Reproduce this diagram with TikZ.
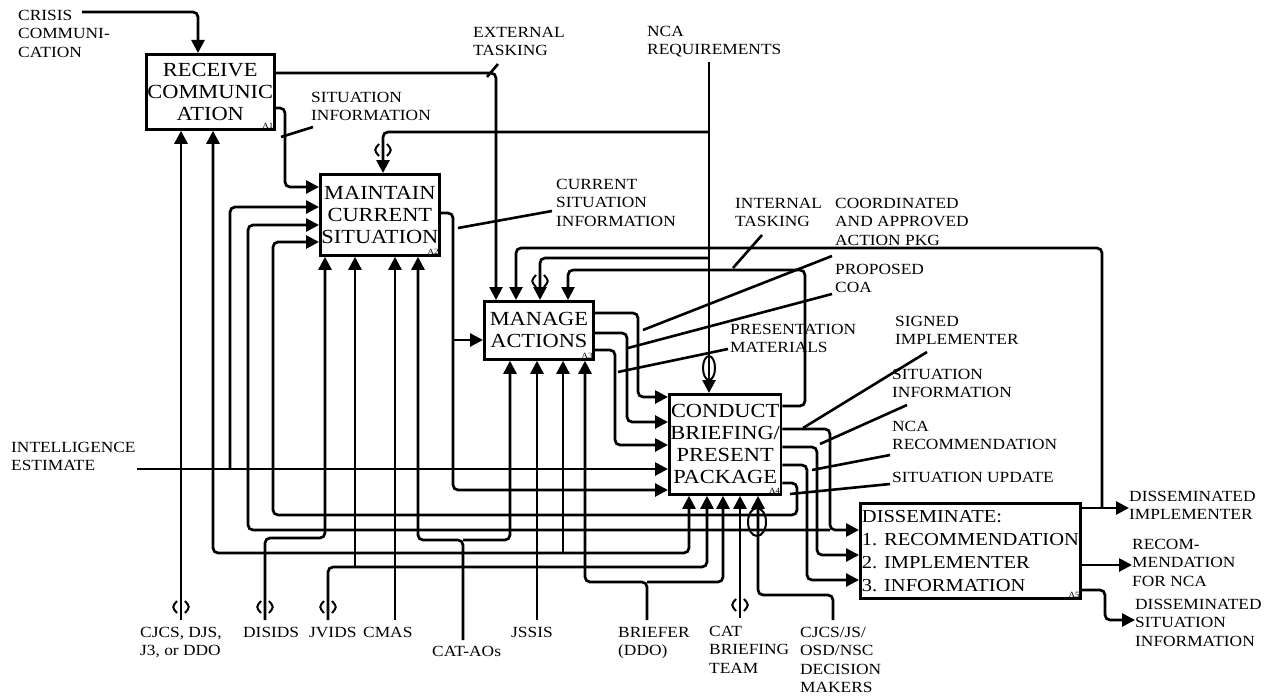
\documentclass[tikz,border=0pt]{standalone}
\usepackage{fontspec}
\setmainfont{Liberation Serif}[FakeStretch=1.12]
\usetikzlibrary{arrows.meta}
\newcommand{\LblFont}{\fontsize{15.5}{18.5}\selectfont}
\newcommand{\BoxFont}{\fontsize{20}{22}\selectfont}
\newcommand{\ListFont}{\fontsize{18.3}{23}\selectfont}
\newcommand{\TagFont}{\fontsize{8}{8}\selectfont}
% tunnel mark round a line
\newcommand{\Tunnel}[2]{\draw[lead, line width=2pt, shift={(#1,#2)}] (-4,-6) .. controls (-9,0) .. (-4,6) (4,-6) .. controls (9,0) .. (4,6);}

\begin{document}
\begin{tikzpicture}[x=1pt,y=-1pt,>={Triangle[length=13pt,width=13pt]},
  proc/.style={draw, line width=2.8pt, anchor=north west, inner sep=1pt, align=center, font=\BoxFont},
  lbl/.style={anchor=north west, inner sep=0pt, align=left, font=\LblFont},
  flow/.style={line width=2.7pt, rounded corners=5pt},
  lead/.style={line width=2.6pt},
  tag/.style={anchor=south east, inner sep=2pt, font=\TagFont}]
  \useasboundingbox (0,0) rectangle (1271,698);

  % activities
  \node[proc, minimum width=115, minimum height=75]  (A1) at (145,53)  {RECEIVE\\COMMUNIC\\ATION};
  \node[proc, minimum width=113, minimum height=81]  (A2) at (319,173) {MAINTAIN\\CURRENT\\SITUATION};
  \node[proc, minimum width=109, minimum height=58]  (A3) at (483,300) {MANAGE\\ACTIONS};
  \node[proc, minimum width=108, minimum height=100] (A4) at (668,393) {CONDUCT\\BRIEFING/\\PRESENT\\PACKAGE};
  \node[proc, minimum width=220, minimum height=95, align=left, inner sep=0pt, font=\ListFont] (A5) at (859,502)
    {DISSEMINATE:\\1. RECOMMENDATION\\2. IMPLEMENTER\\3. INFORMATION};
  \node[tag] (A1t) at (A1.south east) {A1};
  \node[tag] (A2t) at (A2.south east) {A2};
  \node[tag] (A3t) at (A3.south east) {A3};
  \node[tag] (A4t) at (A4.south east) {A4};
  \node[tag] (A5t) at (A5.south east) {A5};

  % labels
  \node[lbl] (crisis)   at (18,10)   {CRISIS\\COMMUNI-\\CATION};
  \node[lbl] (exttask)  at (473,27)  {EXTERNAL\\TASKING};
  \node[lbl] (ncareq)   at (647,26)  {NCA\\REQUIREMENTS};
  \node[lbl] (sitinfoA) at (311,92)  {SITUATION\\INFORMATION};
  \node[lbl] (cursit)   at (556,179) {CURRENT\\SITUATION\\INFORMATION};
  \node[lbl] (inttask)  at (735,198) {INTERNAL\\TASKING};
  \node[lbl] (coordpkg) at (835,198) {COORDINATED\\AND APPROVED\\ACTION PKG};
  \node[lbl] (propcoa)  at (835,264) {PROPOSED\\COA};
  \node[lbl] (presmat)  at (730,324) {PRESENTATION\\MATERIALS};
  \node[lbl] (signimpl) at (895,316) {SIGNED\\IMPLEMENTER};
  \node[lbl] (sitinfoB) at (892,369) {SITUATION\\INFORMATION};
  \node[lbl] (ncarec)   at (892,421) {NCA\\RECOMMENDATION};
  \node[lbl] (situpd)   at (892,472) {SITUATION UPDATE};
  \node[lbl] (intel)    at (11,442)  {INTELLIGENCE\\ESTIMATE};
  \node[lbl] (dissimpl) at (1129,491) {DISSEMINATED\\IMPLEMENTER};
  \node[lbl] (recnca)   at (1132,539) {RECOM-\\MENDATION\\FOR NCA};
  \node[lbl] (disssit)  at (1135,599) {DISSEMINATED\\SITUATION\\INFORMATION};
  \node[lbl] (cjcs)     at (140,627) {CJCS, DJS,\\J3, or DDO};
  \node[lbl] (disids)   at (243,627) {DISIDS};
  \node[lbl] (jvids)    at (309,627) {JVIDS};
  \node[lbl] (cmas)     at (363,627) {CMAS};
  \node[lbl] (cataos)   at (432,646) {CAT-AOs};
  \node[lbl] (jssis)    at (511,627) {JSSIS};
  \node[lbl] (briefer)  at (618,627) {BRIEFER\\(DDO)};
  \node[lbl] (catbt)    at (709,626) {CAT\\BRIEFING\\TEAM};
  \node[lbl] (decmak)   at (800,627) {CJCS/JS/\\OSD/NSC\\DECISION\\MAKERS};

  % free ends
  \coordinate (crisisEnd)  at (82,12);
  \coordinate (ncaEnd)     at (709,62);
  \coordinate (intelEnd)   at (137,469);
  \coordinate (cjcsEnd)    at (181,620);
  \coordinate (disidsEnd)  at (265,620);
  \coordinate (jvidsEnd)   at (328,620);
  \coordinate (cmasEnd)    at (395,620);
  \coordinate (cataosEnd)  at (463,640);
  \coordinate (jssisEnd)   at (537,620);
  \coordinate (brieferEnd) at (647,620);
  \coordinate (catbtEnd)   at (740,618);
  \coordinate (decmakEnd)  at (833,620);

  % inputs and controls
  \draw[flow,->] (crisisEnd) -| (A1.north -| 198,0);
  \draw[flow,->] (A1.east |- 0,73) -| (A3.north -| 496,0);
  \draw[lead] (487,77) -- (498,64);
  \draw[flow,->] (A1.east |- 0,108) -- (285,108) -- (285,187) -- (A2.west |- 0,187);
  \draw[lead] (281,137) -- (313,127);
  \draw[flow,->] (ncaEnd) -- (A4.north -| 709,0);
  \draw[flow,->] (709,132) -| (A2.north -| 383,0);
  \draw[flow,->] (709,258) -| (A3.north -| 540,0);
  \draw[flow,->] (A2.east |- 0,213) -- (453,213) |- (A4.west |- 0,490);
  \draw[flow,->] (453,340) -- (A3.west |- 0,340);
  \draw[lead] (458,228) -- (552,211);
  \draw[flow,->] (intelEnd) -- (A4.west |- 0,469);
  \draw[flow,->] (230,469) |- (A2.west |- 0,207);

  % A3 outputs
  \draw[flow,->] (A3.east |- 0,313) -- (638,313) |- (A4.west |- 0,397);
  \draw[flow,->] (A3.east |- 0,333) -- (627,333) |- (A4.west |- 0,422);
  \draw[flow,->] (A3.east |- 0,350) -- (615,350) |- (A4.west |- 0,445);
  \draw[lead] (643,330) -- (832,256);
  \draw[lead] (628,348) -- (832,294);
  \draw[lead] (618,372) -- (728,349);

  % A4 outputs
  \draw[flow,->] (A4.east |- 0,406) -- (805,406) -- (805,270) -| (A3.north -| 568,0);
  \draw[lead] (733,268) -- (762,235);
  \draw[flow,->] (A4.east |- 0,429) -| (830,530) -- (A5.west |- 0,530);
  \draw[flow,->] (830,530) -- (248,530) -- (248,225) -- (A2.west |- 0,225);
  \draw[lead] (803,428) -- (927,352);
  \draw[flow,->] (A4.east |- 0,447) -| (817,555) -- (A5.west |- 0,555);
  \draw[lead] (820,444) -- (907,405);
  \draw[flow,->] (A4.east |- 0,465) -| (807,580) -- (A5.west |- 0,580);
  \draw[lead] (812,470) -- (890,455);
  \draw[flow,->] (A4.east |- 0,483) -- (797,483) -- (797,515) -- (273,515) -- (273,242) -- (A2.west |- 0,242);
  \draw[lead] (790,494) -- (890,484);

  % A5 outputs
  \draw[flow,->] (A5.east |- 0,508) -- (dissimpl.west |- 0,508);
  \draw[flow,->] (1102,508) -- (1102,248) -| (A3.north -| 516,0);
  \draw[flow,->] (A5.east |- 0,565) -- (recnca.west |- 0,565);
  \draw[flow,->] (A5.east |- 0,590) -- (1105,590) |- (disssit.west |- 0,620);

  % mechanisms
  \draw[flow,->] (cjcsEnd) -- (A1.south -| 181,0);
  \draw[flow,->] (disidsEnd) -- (265,538) -- (325,538) -- (A2.south -| 325,0);
  \draw[flow,->] (jvidsEnd) -- (328,567) -- (707,567) -- (A4.south -| 707,0);
  \draw[flow,->] (355,567) -- (A2.south -| 355,0);
  \draw[flow,->] (cmasEnd) -- (A2.south -| 395,0);
  \draw[flow,->] (395,553) -| (A1.south -| 213,0);
  \draw[flow,->] (395,553) -| (A4.south -| 689,0);
  \draw[flow,->] (563,553) -- (A3.south -| 563,0);
  \draw[flow,->] (cataosEnd) -- (463,540) -| (A2.south -| 418,0);
  \draw[flow,->] (463,540) -| (A3.south -| 510,0);
  \draw[flow,->] (jssisEnd) -- (A3.south -| 537,0);
  \draw[flow,->] (brieferEnd) -- (647,582) -| (A3.south -| 585,0);
  \draw[flow,->] (647,582) -| (A4.south -| 723,0);
  \draw[flow,->] (catbtEnd) -- (A4.south -| 740,0);
  \draw[flow,->] (decmakEnd) -- (833,595) -- (758,595) -- (A4.south -| 758,0);

  % tunnels
  \Tunnel{181}{607}
  \Tunnel{265}{607}
  \Tunnel{328}{607}
  \Tunnel{740}{605}
  \Tunnel{383}{150}
  \Tunnel{540}{281}
  \draw[lead, line width=2pt] (709,368) ellipse [x radius=6, y radius=12];
  \draw[lead, line width=2pt] (757,522) ellipse [x radius=9, y radius=14];
\end{tikzpicture}
\end{document}
